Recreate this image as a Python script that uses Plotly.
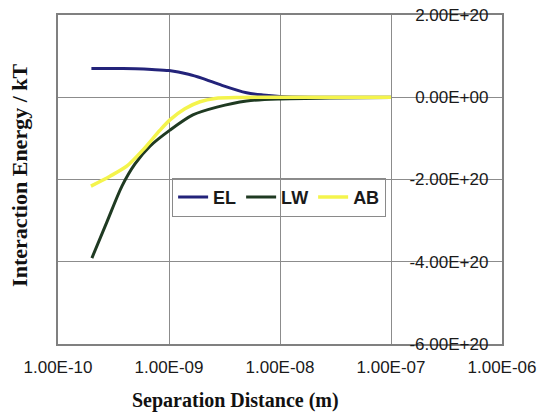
import plotly.graph_objects as go

# Separation distance (m) and interaction energies (kT)
x_el = [2e-10, 3e-10, 5e-10, 7e-10, 1e-9, 1.5e-9, 2e-9, 3e-9, 5e-9, 7e-9, 1e-8, 2e-8, 5e-8, 1e-7]
el = [0.70e20, 0.70e20, 0.69e20, 0.675e20, 0.65e20, 0.56e20, 0.46e20, 0.29e20, 0.11e20, 0.055e20, 0.02e20, 0.003e20, 0.0, 0.0]

x_lw = [2.02e-10, 2.76e-10, 3.77e-10, 4.94e-10, 6.74e-10, 1.02e-9, 1.64e-9, 2.7e-9, 5e-9, 1e-8, 2.8e-8, 1e-7]
lw = [-3.91e20, -3.03e20, -2.16e20, -1.62e20, -1.19e20, -0.80e20, -0.43e20, -0.24e20, -0.09e20, -0.04e20, -0.02e20, -0.004e20]

x_ab = [1.98e-10, 2.94e-10, 4.19e-10, 5.83e-10, 8.3e-10, 1.02e-9, 1.39e-9, 1.9e-9, 2.6e-9, 4.4e-9, 1e-8, 1e-7]
ab = [-2.16e20, -1.92e20, -1.67e20, -1.28e20, -0.80e20, -0.55e20, -0.28e20, -0.11e20, -0.03e20, -0.006e20, 0.0, 0.0]

x_tickvals = [1e-10, 1e-9, 1e-8, 1e-7, 1e-6]
x_ticktext = ["1.00E-10", "1.00E-09", "1.00E-08", "1.00E-07", "1.00E-06"]
y_tickvals = [2e20, 0, -2e20, -4e20, -6e20]
y_ticktext = ["2.00E+20", "0.00E+00", "-2.00E+20", "-4.00E+20", "-6.00E+20"]

fig = go.Figure()
fig.add_trace(go.Scatter(x=x_el, y=el, name="EL", mode="lines",
                         line=dict(color="#23237a", width=3, shape="spline", smoothing=0.8)))
fig.add_trace(go.Scatter(x=x_lw, y=lw, name="LW", mode="lines",
                         line=dict(color="#1f3a22", width=3, shape="spline", smoothing=0.8)))
fig.add_trace(go.Scatter(x=x_ab, y=ab, name="AB", mode="lines",
                         line=dict(color="#f4f44c", width=3.5, shape="spline", smoothing=0.8)))

sans = "Arial, Liberation Sans, sans-serif"
serif = "Times New Roman, Liberation Serif, serif"

fig.update_layout(
    width=539, height=412,
    margin=dict(l=58, r=37, t=15, b=68),
    paper_bgcolor="white", plot_bgcolor="white",
    showlegend=True,
    legend=dict(orientation="h", x=0.257, y=0.505, xanchor="left", yanchor="top",
                bgcolor="rgba(255,255,255,0)", bordercolor="#8a8a8a", borderwidth=1,
                font=dict(family=sans, size=18, color="#1a1a1a", weight="bold"),
                itemwidth=30, tracegroupgap=0),
    xaxis=dict(type="log", range=[-10, -6], tickvals=x_tickvals, ticktext=x_ticktext,
               automargin=False, ticklabeloverflow="allow",
               showgrid=True, gridcolor="#8c8c8c", gridwidth=1,
               showline=True, linecolor="#808080", linewidth=2, mirror=True,
               ticks="", ticklabelstandoff=7,
               tickfont=dict(family=sans, size=17, color="#1a1a1a")),
    yaxis=dict(range=[-6e20, 2e20], side="right", tickvals=y_tickvals, ticktext=y_ticktext,
               automargin=False, ticklabelposition="inside", ticklabeloverflow="allow",
               ticklabelstandoff=14,
               showgrid=True, gridcolor="#8c8c8c", gridwidth=1, zeroline=False,
               showline=True, linecolor="#808080", linewidth=2, mirror=True,
               ticks="",
               tickfont=dict(family=sans, size=17, color="#1a1a1a")),
    annotations=[
        dict(text="<b>Interaction Energy / kT</b>", xref="paper", yref="paper",
             x=-0.0856, y=0.514, textangle=-90, showarrow=False,
             xanchor="center", yanchor="middle",
             font=dict(family=serif, size=22, color="#111111")),
        dict(text="<b>Separation Distance (m)</b>", xref="paper", yref="paper",
             x=0.399, y=-0.173, showarrow=False, xanchor="center", yanchor="middle",
             font=dict(family=serif, size=20, color="#111111")),
    ],
)

fig.write_html("out.html", config={"displayModeBar": False},
               post_script="document.body.style.margin='0px';document.body.style.padding='0px';")
